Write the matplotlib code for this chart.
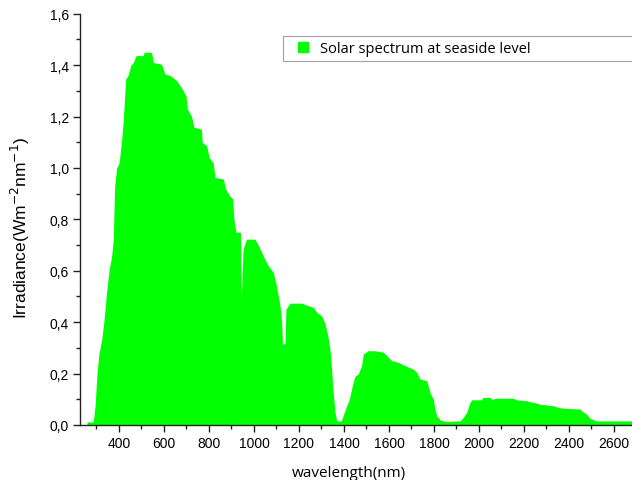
import matplotlib
matplotlib.use("Agg")
import matplotlib.pyplot as plt
from matplotlib.lines import Line2D
from matplotlib.ticker import MultipleLocator, FuncFormatter

# solar irradiance at sea level, read per wavelength (nm -> W m^-2 nm^-1)
wavelength = [258, 286, 294, 303, 311, 323, 333, 345, 357, 367, 375, 381, 390, 401,
              412, 419, 430, 441, 453, 464, 476, 508, 512, 545, 553, 589, 604, 627,
              656, 679, 698, 704, 723, 733, 767, 770, 790, 801, 819, 827, 864, 874,
              893, 905, 911, 920, 940, 944, 948, 952, 967, 1004, 1019, 1041, 1063,
              1086, 1100, 1116, 1123, 1127, 1138, 1142, 1160, 1212, 1234, 1264, 1279,
              1301, 1316, 1331, 1341, 1350, 1360, 1368, 1388, 1404, 1412, 1424, 1437,
              1449, 1463, 1478, 1486, 1508, 1538, 1575, 1590, 1612, 1641, 1656, 1679,
              1708, 1723, 1738, 1768, 1782, 1797, 1804, 1812, 1827, 1849, 1916, 1931,
              1945, 1960, 1968, 2012, 2016, 2049, 2056, 2079, 2153, 2168, 2212, 2257,
              2272, 2331, 2353, 2382, 2449, 2456, 2478, 2493, 2523, 2700]
irradiance = [0.012, 0.012, 0.075, 0.206, 0.276, 0.33, 0.40, 0.516, 0.607, 0.652, 0.723,
              0.93, 1.00, 1.02, 1.11, 1.18, 1.346, 1.36, 1.40, 1.41, 1.437, 1.437, 1.45,
              1.45, 1.41, 1.404, 1.365, 1.36, 1.34, 1.31, 1.28, 1.23, 1.20, 1.158, 1.151,
              1.10, 1.086, 1.04, 1.02, 0.963, 0.957, 0.918, 0.89, 0.88, 0.80, 0.75, 0.75,
              0.49, 0.60, 0.684, 0.723, 0.723, 0.70, 0.658, 0.62, 0.594, 0.54, 0.464,
              0.40, 0.315, 0.315, 0.45, 0.474, 0.474, 0.466, 0.458, 0.438, 0.425, 0.393,
              0.334, 0.27, 0.15, 0.05, 0.016, 0.016, 0.055, 0.075, 0.10, 0.153, 0.19,
              0.198, 0.23, 0.276, 0.289, 0.289, 0.283, 0.27, 0.25, 0.244, 0.237, 0.228,
              0.217, 0.205, 0.179, 0.172, 0.127, 0.10, 0.062, 0.036, 0.02, 0.014, 0.016,
              0.03, 0.049, 0.088, 0.098, 0.098, 0.107, 0.107, 0.10, 0.104, 0.104, 0.098,
              0.094, 0.085, 0.08, 0.075, 0.068, 0.065, 0.062, 0.055, 0.042, 0.026, 0.016,
              0.016]

green = "#00ff00"
series_name = "Solar spectrum at seaside level"

fig = plt.figure(figsize=(6.32, 4.81), dpi=100)
ax = fig.add_axes([80 / 632, 55 / 481, 552 / 632, 411.3 / 481])

ax.fill_between(wavelength, 0, irradiance, color=green, linewidth=0)

ax.set_xlim(227, 2680)
ax.set_ylim(0, 1.6)

ax.spines["top"].set_visible(False)
ax.spines["right"].set_visible(False)
for s in ("left", "bottom"):
    ax.spines[s].set_linewidth(1.0)
    ax.spines[s].set_color("#222222")

ax.xaxis.set_major_locator(MultipleLocator(200))
ax.xaxis.set_minor_locator(MultipleLocator(100))
ax.yaxis.set_major_locator(MultipleLocator(0.2))
ax.yaxis.set_minor_locator(MultipleLocator(0.1))
ax.yaxis.set_major_formatter(FuncFormatter(lambda v, p: f"{v:.1f}".replace(".", ",")))

ax.tick_params(which="major", direction="out", length=5, width=1.0, color="#222222",
               labelsize=10, pad=3)
ax.tick_params(which="minor", direction="out", length=3, width=1.0, color="#222222")
for lab in ax.get_xticklabels() + ax.get_yticklabels():
    lab.set_fontfamily("Liberation Sans")

ax.set_xlabel("wavelength(nm)", fontsize=11, family="Open Sans")
ax.xaxis.set_label_coords((349 - 80) / 552, -40 / 411.3)
ax.set_ylabel(r"Irradiance(Wm$^{-2}$nm$^{-1}$)", fontsize=12.5, family="Liberation Sans")
ax.yaxis.set_label_coords(-48 / 552, (426 - 228) / 411.3)

# square marker as the legend key
handle = Line2D([], [], marker="s", linestyle="none", markersize=6.5, color=green)
leg = ax.legend([handle], [series_name], loc="upper left",
                bbox_to_anchor=(283 / 632, 444 / 481, 360 / 632, 0),
                bbox_transform=fig.transFigure, mode="expand", frameon=True,
                fancybox=False, handlelength=2.1, handletextpad=0.1,
                borderpad=0.35, borderaxespad=0,
                prop={"family": "Open Sans", "size": 10.5})
leg.get_frame().set_edgecolor("#888888")
leg.get_frame().set_linewidth(0.8)

fig.savefig("out.png", dpi=100)
